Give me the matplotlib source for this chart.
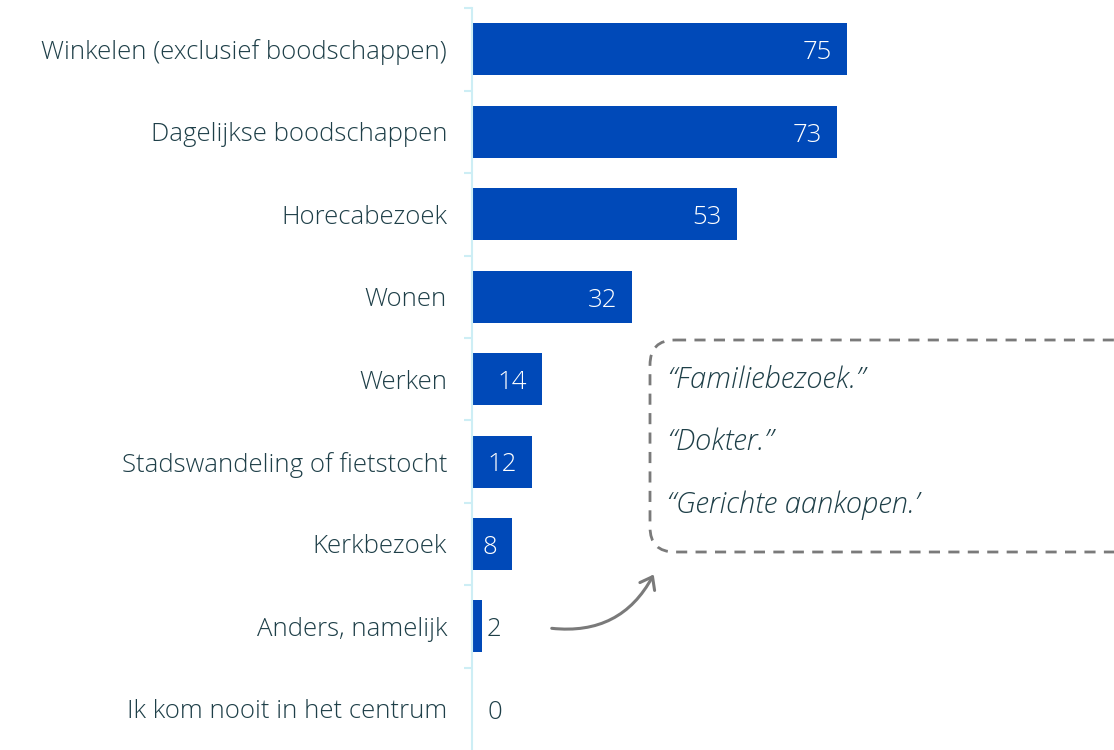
import matplotlib.pyplot as plt
from matplotlib.patches import FancyBboxPatch, FancyArrowPatch
import numpy as np

categories = ['Winkelen (exclusief boodschappen)', 'Dagelijkse boodschappen', 'Horecabezoek',
              'Wonen', 'Werken', 'Stadswandeling of fietstocht', 'Kerkbezoek',
              'Anders, namelijk', 'Ik kom nooit in het centrum']
values = [75, 73, 53, 32, 14, 12, 8, 2, 0]
quotes = ['\u201cFamiliebezoek.\u201d', '\u201cDokter.\u201d', '\u201cGerichte aankopen.\u2019']

plt.rcParams['font.family'] = ['Open Sans', 'DejaVu Sans']
blue = '#0049b8'
txt = '#1e3f48'
axcol = '#cdeef5'
fs = 18.5

fig = plt.figure(figsize=(11.14, 7.5), dpi=100)
ax = fig.add_axes([0.4237, 0, 0.5763, 0.989])
y = np.arange(len(categories))
ax.barh(y, values, height=0.63, color=blue)
ax.set_ylim(8.5, -0.5)
ax.set_xlim(0, 128.4)

for i, v in enumerate(values):
    if v >= 5:
        ax.text(v - 3, i + 0.04, str(v), ha='right', va='center', color='white', fontsize=fs, fontweight='light')
    else:
        ax.text(max(v + 1, 3), i + 0.04, str(v), ha='left', va='center', color=txt, fontsize=fs, fontweight='light')

for s in ['top', 'right', 'bottom']:
    ax.spines[s].set_visible(False)
ax.spines['left'].set_color(axcol)
ax.spines['left'].set_linewidth(1.5)
ax.set_xticks([])
ax.set_yticks(y)
ax.set_yticklabels(categories, fontsize=fs, color=txt, fontweight='light')
ax.tick_params(axis='y', which='major', length=0, pad=18)
ax.set_yticks(np.arange(-0.5, 8, 1), minor=True)
ax.tick_params(axis='y', which='minor', length=6, color=axcol, width=1.5)

# overlay in pixel units for the callout
ov = fig.add_axes([0, 0, 1, 1])
ov.set_xlim(0, 1114)
ov.set_ylim(750, 0)
ov.axis('off')
ov.patch.set_alpha(0)
box = FancyBboxPatch((675, 365), 480, 162, boxstyle='round,pad=25', fill=False,
                     edgecolor='#7a7a7a', linewidth=2, linestyle=(0, (4, 3)))
ov.add_patch(box)
for k, q in enumerate(quotes):
    ov.text(667, 380 + 62.5 * k, q, ha='left', va='center', fontsize=21, style='italic',
            color=txt, fontweight='light')
arr = FancyArrowPatch((549, 628), (655, 572), connectionstyle='arc3,rad=0.35',
                      arrowstyle='->,head_length=8,head_width=6', color='#7a7a7a', linewidth=2.2)
ov.add_patch(arr)

fig.savefig('out.png', dpi=100)
